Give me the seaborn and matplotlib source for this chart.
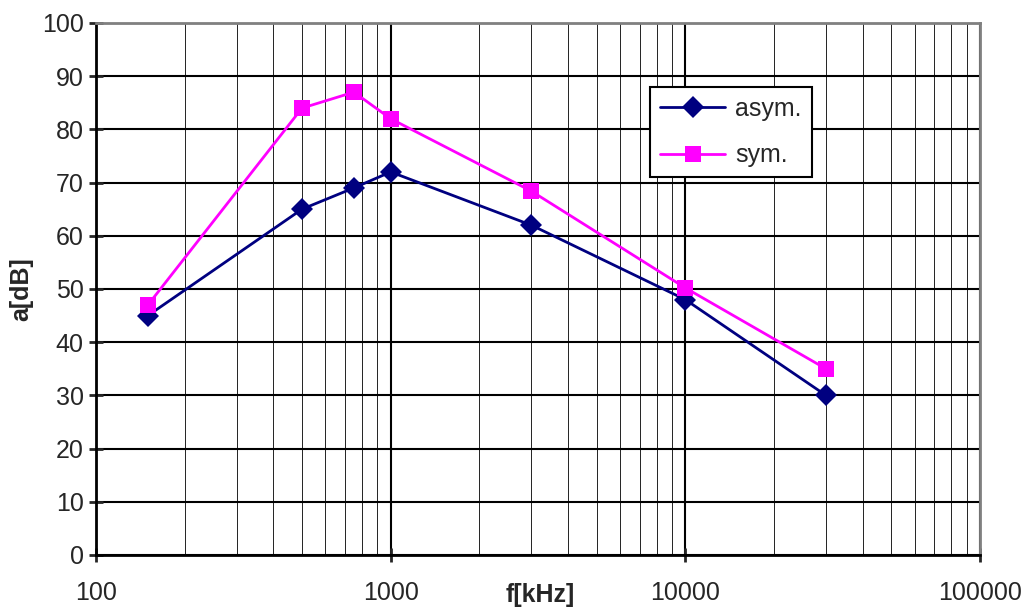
import pandas as pd
import matplotlib.pyplot as plt
import matplotlib.ticker as mticker
import seaborn as sns

# values
freq_khz = [150, 500, 750, 1000, 3000, 10000, 30000]
asym_db = [45, 65, 69, 72, 62, 48, 30]
sym_db = [47, 84, 87, 82, 68.4, 50.2, 35]
series_names = ['asym.', 'sym.']

df = pd.concat([
    pd.DataFrame({'f': freq_khz, 'a': asym_db, 'series': series_names[0]}),
    pd.DataFrame({'f': freq_khz, 'a': sym_db, 'series': series_names[1]}),
])

sns.set_style('white')
plt.rcParams['font.family'] = ['Liberation Sans', 'DejaVu Sans']

fig = plt.figure(figsize=(10.26, 6.08), dpi=100)
ax = fig.add_axes([0.0936, 0.0872, 0.8616, 0.875])

palette = {'asym.': '#000080', 'sym.': '#FF00FF'}
markers = {'asym.': 'D', 'sym.': 's'}
sns.lineplot(data=df, x='f', y='a', hue='series', style='series',
             palette=palette, markers=markers, dashes=False,
             markersize=11, linewidth=2, markeredgewidth=0, ax=ax, zorder=3)

ax.set_xscale('log')
ax.set_xlim(100, 100000)
ax.set_ylim(0, 100)
ax.set_yticks(range(0, 101, 10))
ax.xaxis.set_major_locator(mticker.LogLocator(base=10))
ax.xaxis.set_minor_locator(mticker.LogLocator(base=10, subs=range(2, 10)))
ax.xaxis.set_major_formatter(mticker.FuncFormatter(lambda v, p: f'{int(v)}'))
ax.xaxis.set_minor_formatter(mticker.NullFormatter())

ax.grid(True, which='major', color='black', linewidth=1.5)
ax.grid(True, which='minor', axis='x', color='#222222', linewidth=0.7)
ax.set_axisbelow(True)

for side in ['left', 'bottom']:
    ax.spines[side].set_color('black')
    ax.spines[side].set_linewidth(2)
for side in ['top', 'right']:
    ax.spines[side].set_color('#808080')
    ax.spines[side].set_linewidth(2)

ax.tick_params(axis='y', which='major', direction='inout', length=10, width=2,
               labelsize=18, left=True, pad=4)
ax.tick_params(axis='x', which='major', direction='inout', length=10, width=2,
               labelsize=18, bottom=True, pad=14)
ax.tick_params(axis='x', which='minor', bottom=False)

ax.set_xlabel('f[kHz]', fontsize=18, fontweight='bold', va='center')
ax.xaxis.set_label_coords(0.502, -0.076)
ax.set_ylabel('a[dB]', fontsize=18, fontweight='bold', labelpad=6)

leg = ax.legend(loc='upper left', bbox_to_anchor=(0.627, 0.88), fontsize=18,
                frameon=True, fancybox=False, edgecolor='black',
                borderaxespad=0, handlelength=2.6, handletextpad=0.4,
                borderpad=0.4, labelspacing=0.9)
leg.get_frame().set_linewidth(1.5)
leg.get_frame().set_alpha(1)

fig.savefig('out.png', dpi=100)
